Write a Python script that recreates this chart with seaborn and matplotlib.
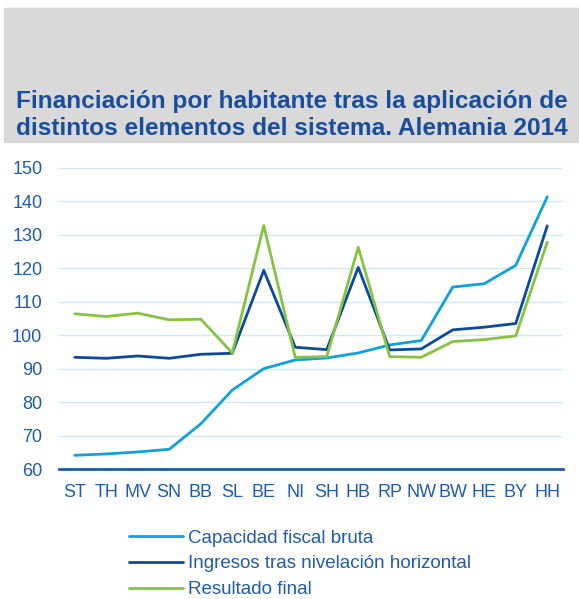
import pandas as pd
import numpy as np
import matplotlib.pyplot as plt
import seaborn as sns
from matplotlib.patches import Rectangle

# Data (per inhabitant, index)
regions = ['ST', 'TH', 'MV', 'SN', 'BB', 'SL', 'BE', 'NI', 'SH', 'HB',
           'RP', 'NW', 'BW', 'HE', 'BY', 'HH']
capacidad = [64.1, 64.5, 65.1, 65.9, 73.5, 83.6, 90.0, 92.6, 93.2, 94.7,
             97.1, 98.4, 114.4, 115.4, 120.9, 141.4]
ingresos = [93.4, 93.1, 93.8, 93.1, 94.3, 94.6, 119.4, 96.4, 95.7, 120.3,
            95.6, 95.9, 101.6, 102.4, 103.5, 132.7]
resultado = [106.4, 105.6, 106.6, 104.6, 104.8, 94.7, 132.8, 93.4, 93.6, 126.3,
             93.6, 93.4, 98.1, 98.7, 99.8, 127.8]
series_names = ['Capacidad fiscal bruta', 'Ingresos tras nivelación horizontal',
                'Resultado final']
title_lines = ['Financiación por habitante tras la aplicación de',
               'distintos elementos del sistema. Alemania 2014']

df = pd.DataFrame({
    'region': regions * 3,
    'valor': capacidad + ingresos + resultado,
    'serie': [s for s in series_names for _ in regions],
})

palette = {'Capacidad fiscal bruta': '#0fa0de',
           'Ingresos tras nivelación horizontal': '#0d4a9a',
           'Resultado final': '#86c440'}
text_blue = '#1f5bb0'

sns.set_style('white')
plt.rcParams['font.family'] = ['Liberation Sans', 'DejaVu Sans']

W, H = 579, 599
fig = plt.figure(figsize=(W / 100, H / 100), dpi=100)
# gray title band
fig.patches.append(Rectangle((4 / W, 1 - 142 / H), 575 / W, 134 / H,
                             transform=fig.transFigure, color='#d9d9d9', zorder=0))
for line, base in zip(title_lines, [108, 135]):
    fig.text(16 / W, 1 - base / H, line, fontsize=17.6, fontweight='bold',
             color='#1a4d9c', va='baseline')

ax = fig.add_axes([59 / W, 1 - 469 / H, 504 / W, 301 / H])
sns.lineplot(data=df, x='region', y='valor', hue='serie', palette=palette,
             linewidth=2, ax=ax, sort=False)

ax.set_ylim(60, 150)
ax.set_yticks(range(60, 151, 10))
ax.set_xlim(-0.5, len(regions) - 0.5)
ax.set_xticks(range(len(regions)))
ax.set_xticklabels(regions)
ax.set_xticks(np.arange(-0.5, len(regions), 1), minor=True)
ax.tick_params(axis='x', which='major', length=0, pad=11, labelsize=13, labelcolor=text_blue)
ax.tick_params(axis='x', which='minor', length=4, width=1.5, color='#1f5aa6', direction='out')
ax.tick_params(axis='y', length=0, pad=12, labelsize=13, labelcolor=text_blue)
ax.set_xlabel('')
ax.set_ylabel('')
ax.yaxis.grid(True, color='#cfe9f6', linewidth=1)
ax.set_axisbelow(True)
for s in ['top', 'right', 'left']:
    ax.spines[s].set_visible(False)
ax.spines['bottom'].set_color('#1f5aa6')
ax.spines['bottom'].set_linewidth(2)

handles, labels = ax.get_legend_handles_labels()
ax.legend(handles, labels, loc='upper left', bbox_to_anchor=(121 / W, 1 - 522 / H),
          bbox_transform=fig.transFigure, frameon=False, fontsize=13.5,
          labelcolor=text_blue, handlelength=2.9, handletextpad=0.25,
          labelspacing=0.46, borderaxespad=0)

fig.savefig('out.png', dpi=100)
